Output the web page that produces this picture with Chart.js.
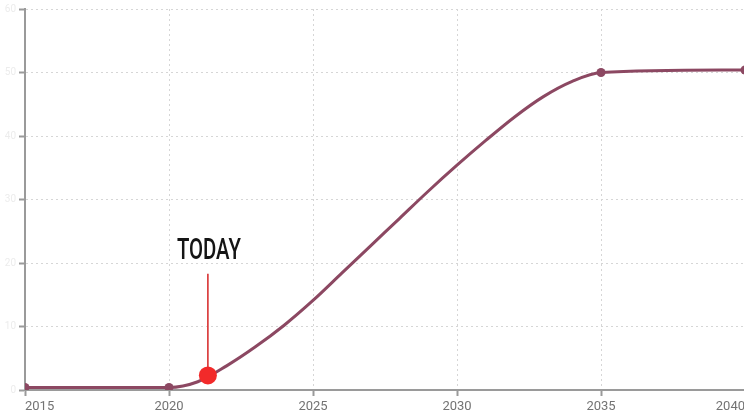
<!DOCTYPE html>
<html>
<head>
<meta charset="utf-8">
<script src="https://cdn.jsdelivr.net/npm/chart.js@4.4.1/dist/chart.umd.min.js"></script>
<style>
  html, body { margin: 0; padding: 0; background: #fff; overflow: hidden; }
  #wrap { width: 754px; height: 419px; }
</style>
</head>
<body>
<div id="wrap"><canvas id="growth" width="754" height="419"></canvas></div>
<script>
// adoption curve, yearly values; markers only on the milestone years
const years = [2015, 2020, 2021, 2022, 2023, 2024, 2025, 2026, 2027, 2028, 2029, 2030, 2031, 2032, 2033, 2034, 2035, 2040];
const values = [0.4, 0.4, 1.3, 3.8, 6.8, 10.2, 14.1, 18.4, 22.7, 27.0, 31.3, 35.4, 39.3, 43.0, 46.2, 48.6, 50.0, 50.4];
const markedYears = [2015, 2020, 2035, 2040];

// "today" marker
const todayYear = 2021.35;
const todayValue = 2.3;
const todayLineTop = 18.3;
const todayLabel = 'TODAY';

// axis ranges / ticks
const xTicks = [2015, 2020, 2025, 2030, 2035, 2040];
const yMin = 0, yMax = 60, yStep = 10;

const lineColor = '#8c4862';
const todayColor = '#f22a2a';

let points = [];
for (let i = 0; i < years.length; i++) {
    points.push({ x: years[i], y: values[i] });
}

const todayMarker = {
    id: 'todayMarker',
    beforeDatasetsDraw(chart) {
        const ctx = chart.ctx;
        const xs = chart.scales.x;
        const ys = chart.scales.y;
        const px = xs.getPixelForValue(todayYear);
        const yDot = ys.getPixelForValue(todayValue);
        const yTop = ys.getPixelForValue(todayLineTop);

        ctx.save();
        ctx.strokeStyle = '#d83232';
        ctx.lineWidth = 1.6;
        ctx.beginPath();
        ctx.moveTo(px, yTop);
        ctx.lineTo(px, yDot);
        ctx.stroke();

        // condensed label above the line
        ctx.font = '500 29px Roboto';
        ctx.fillStyle = '#151515';
        ctx.textAlign = 'center';
        ctx.textBaseline = 'alphabetic';
        const w = ctx.measureText(todayLabel).width;
        const sx = 64 / w;
        ctx.translate(px + 1, yTop - 15);
        ctx.scale(sx, 1);
        ctx.fillText(todayLabel, 0, 0);
        ctx.restore();
    }
};

new Chart(document.getElementById('growth'), {
    type: 'line',
    data: {
        datasets: [
            {
                // today dot, drawn on top of the curve
                type: 'scatter',
                data: [{ x: todayYear, y: todayValue }],
                pointRadius: 9,
                pointBackgroundColor: todayColor,
                pointBorderColor: todayColor,
                pointBorderWidth: 0,
                order: 0
            },
            {
                data: points,
                borderColor: lineColor,
                borderWidth: 3,
                cubicInterpolationMode: 'monotone',
                pointRadius: (c) => (c.raw && markedYears.includes(c.raw.x)) ? 4.5 : 0,
                pointBackgroundColor: lineColor,
                pointBorderColor: lineColor,
                pointBorderWidth: 0,
                fill: false,
                order: 1
            }
        ]
    },
    options: {
        responsive: false,
        animation: false,
        layout: { padding: { top: 4, right: 0, left: 0, bottom: 0 } },
        plugins: {
            legend: { display: false },
            tooltip: { enabled: false }
        },
        scales: {
            x: {
                type: 'linear',
                min: 2015,
                max: 2040,
                afterBuildTicks: (scale) => {
                    scale.ticks = xTicks.map(v => ({ value: v }));
                },
                afterFit: (scale) => { scale.height = 29; },
                ticks: {
                    align: 'inner',
                    padding: 3,
                    color: '#737373',
                    font: { family: 'Roboto', size: 13 },
                    callback: (v) => String(v)
                },
                grid: {
                    color: '#d6d6d6',
                    lineWidth: 1,
                    tickColor: '#9a9a9a',
                    tickWidth: 2,
                    tickLength: 6
                },
                border: { display: true, color: '#9a9a9a', width: 2, dash: [2, 3] }
            },
            y: {
                min: yMin,
                max: yMax,
                ticks: {
                    stepSize: yStep,
                    padding: 3,
                    color: '#ececec',
                    font: { family: 'Roboto', size: 10, lineHeight: 1 }
                },
                afterFit: (scale) => {
                    scale.width = 25;
                    // top label may stick out, don't reserve room for it
                    scale.paddingTop = 0;
                    scale.paddingBottom = 0;
                },
                grid: {
                    color: '#d6d6d6',
                    lineWidth: 1,
                    tickColor: '#9a9a9a',
                    tickWidth: 2,
                    tickLength: 6
                },
                border: { display: true, color: '#9a9a9a', width: 2, dash: [2, 3] }
            }
        }
    },
    plugins: [todayMarker]
});
</script>
</body>
</html>
